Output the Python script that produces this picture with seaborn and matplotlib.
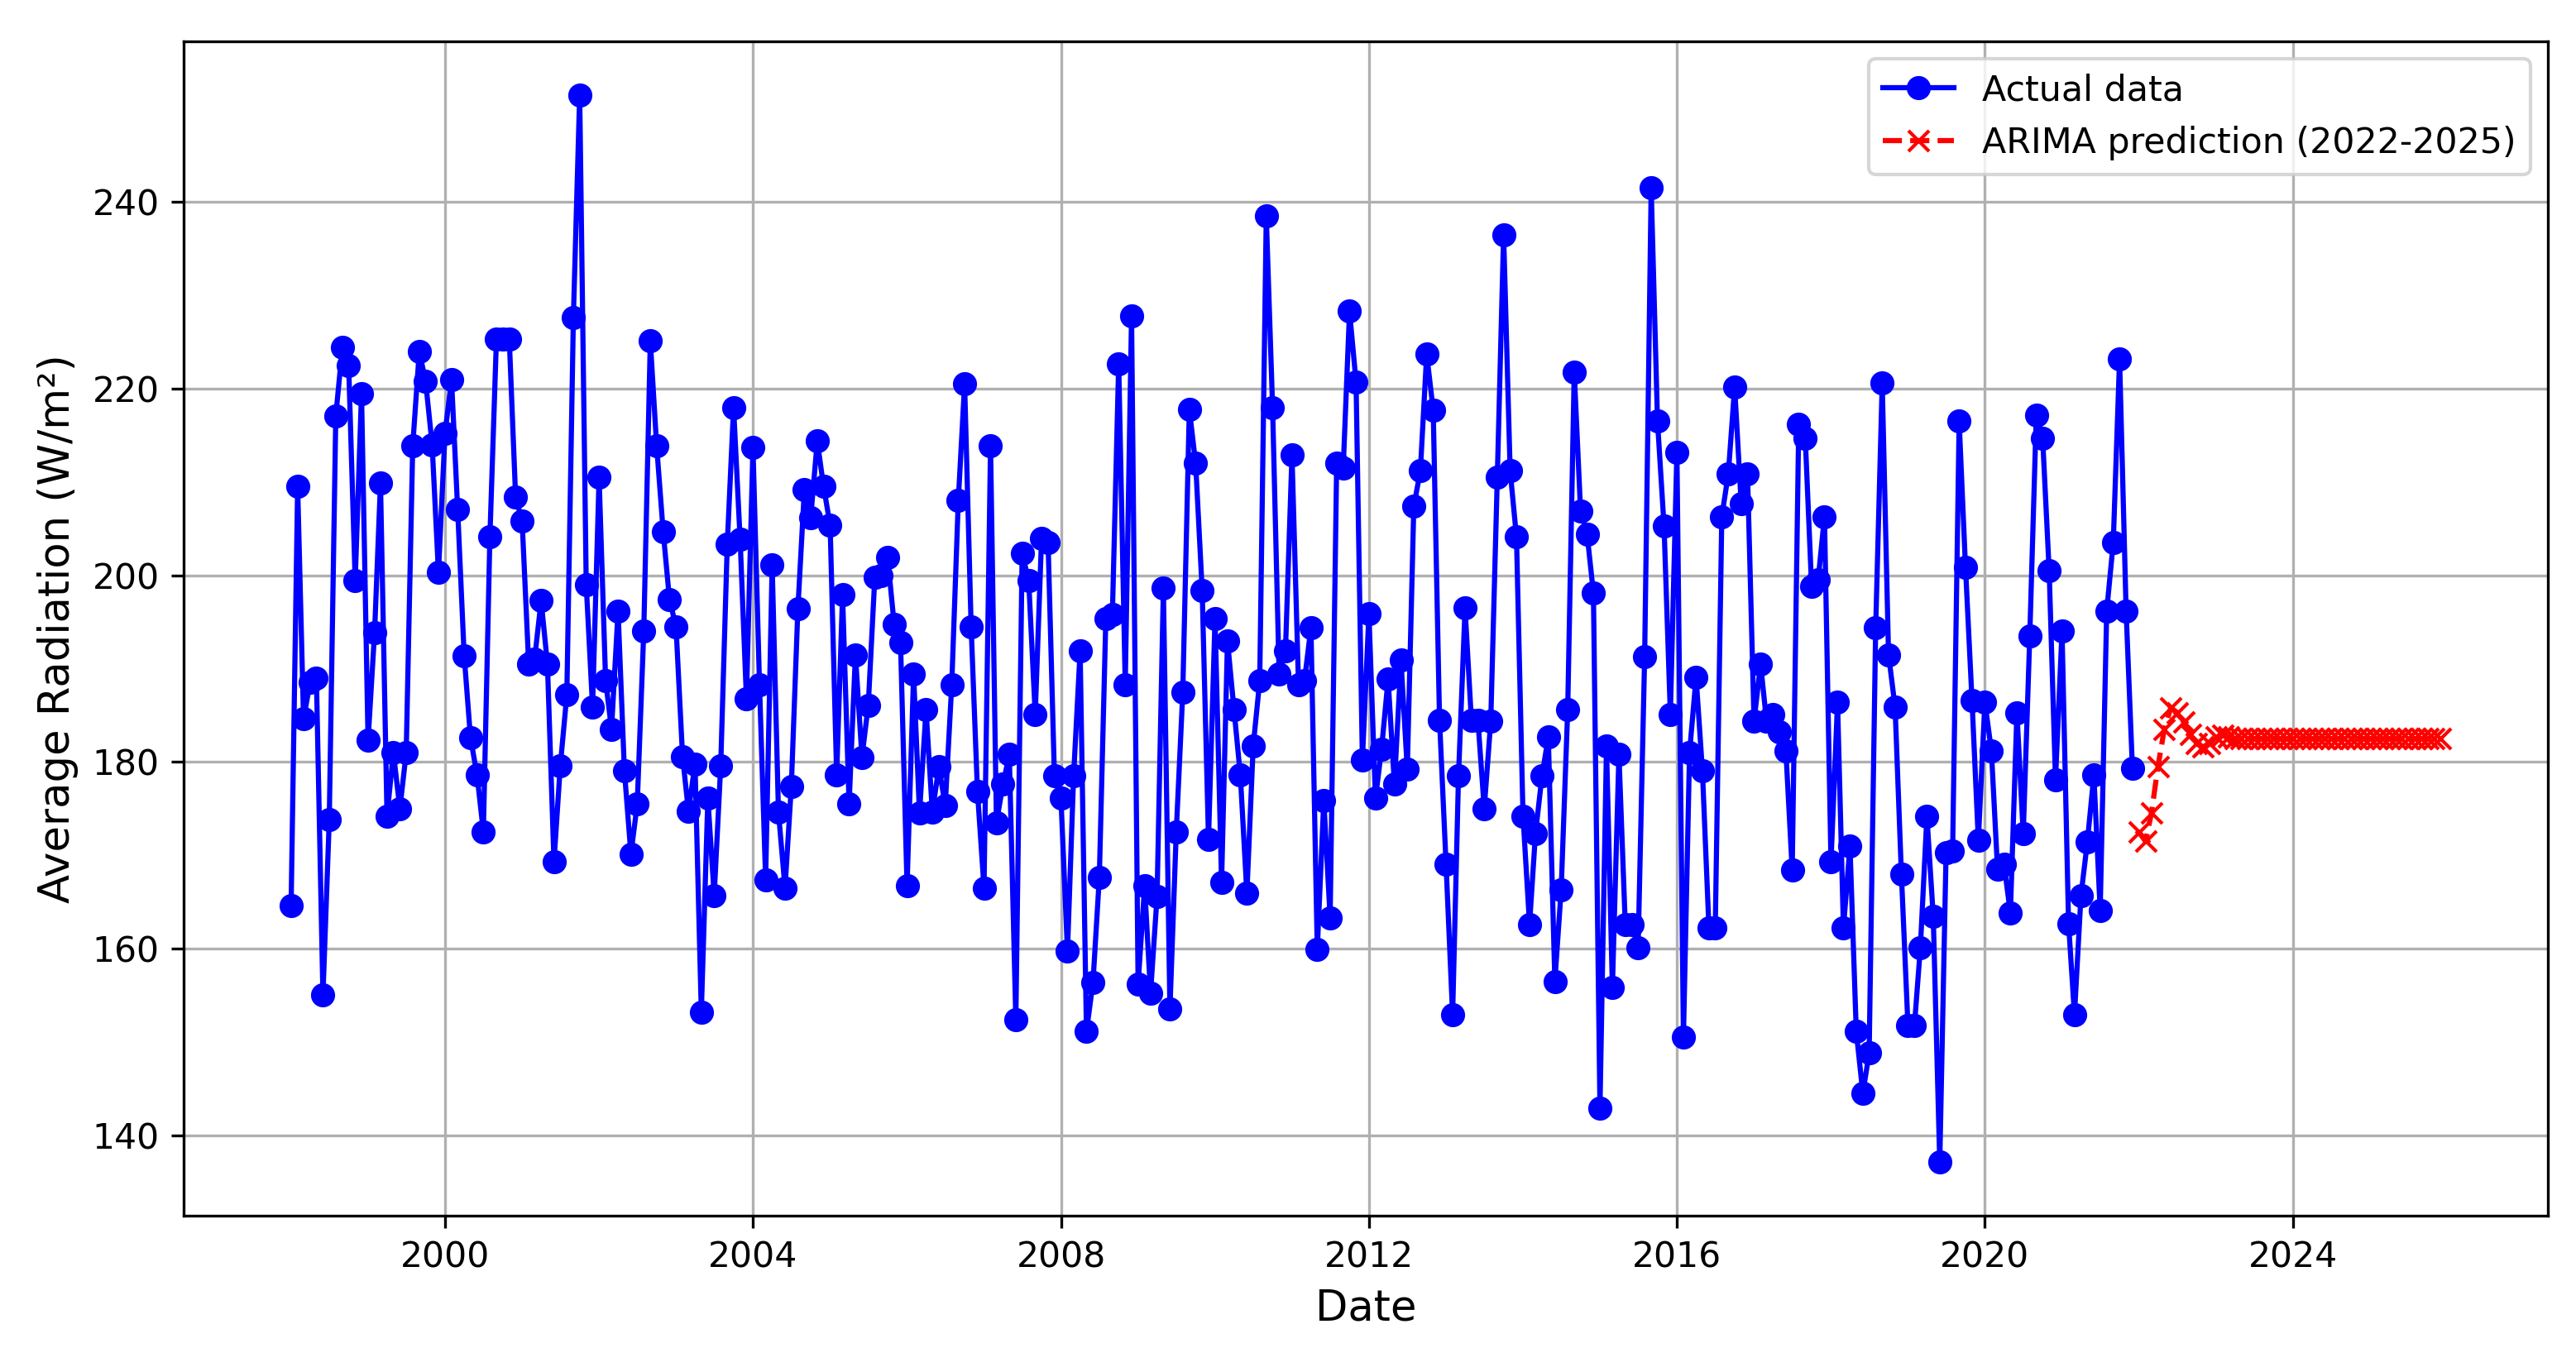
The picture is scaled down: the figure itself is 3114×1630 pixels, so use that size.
import matplotlib
matplotlib.use("Agg")
import matplotlib.pyplot as plt
import matplotlib.dates as mdates
import pandas as pd
import seaborn as sns

# ---- data (monthly averages) ----
actual_start = "1998-01-01"
actual_values = [
    # 1998
    164.6, 209.5, 184.6, 188.5, 189.0, 155.0, 173.8, 217.1, 224.4, 222.5, 199.4, 219.5,
    # 1999
    182.3, 193.9, 209.9, 174.2, 181.0, 175.0, 181.0, 213.9, 224.0, 220.8, 214.0, 200.3,
    # 2000
    215.2, 221.0, 207.1, 191.4, 182.6, 178.6, 172.5, 204.1, 225.3, 225.3, 225.3, 208.4,
    # 2001
    205.8, 190.5, 191.0, 197.3, 190.5, 169.3, 179.6, 187.2, 227.6, 251.5, 199.0, 185.9,
    # 2002
    210.5, 188.7, 183.5, 196.2, 179.1, 170.1, 175.5, 194.0, 225.1, 213.9, 204.7, 197.4,
    # 2003
    194.5, 180.6, 174.7, 179.8, 153.2, 176.1, 165.7, 179.6, 203.3, 218.0, 203.9, 186.8,
    # 2004
    213.7, 188.3, 167.4, 201.1, 174.6, 166.5, 177.4, 196.4, 209.2, 206.2, 214.4, 209.5,
    # 2005
    205.4, 178.6, 197.9, 175.5, 191.5, 180.5, 186.1, 199.8, 200.0, 201.9, 194.7, 192.8,
    # 2006
    166.7, 189.4, 174.5, 185.6, 174.6, 179.5, 175.3, 188.3, 208.0, 220.5, 194.5, 176.8,
    # 2007
    166.5, 213.9, 173.5, 177.6, 180.8, 152.4, 202.4, 199.4, 185.1, 204.0, 203.5, 178.5,
    # 2008
    176.1, 159.7, 178.5, 191.9, 151.1, 156.4, 167.6, 195.4, 195.8, 222.7, 188.3, 227.8,
    # 2009
    156.2, 166.7, 155.2, 165.6, 198.6, 153.5, 172.5, 187.5, 217.8, 212.0, 198.4, 171.7,
    # 2010
    195.4, 167.1, 193.0, 185.6, 178.6, 165.9, 181.7, 188.7, 238.5, 218.0, 189.4, 191.9,
    # 2011
    212.9, 188.3, 188.7, 194.4, 159.9, 175.9, 163.3, 212.0, 211.5, 228.3, 220.7, 180.2,
    # 2012
    195.9, 176.1, 181.4, 188.9, 177.6, 190.9, 179.2, 207.4, 211.2, 223.7, 217.7, 184.5,
    # 2013
    169.0, 152.9, 178.5, 196.5, 184.5, 184.5, 175.0, 184.4, 210.5, 236.5, 211.2, 204.1,
    # 2014
    174.2, 162.6, 172.3, 178.5, 182.7, 156.5, 166.3, 185.6, 221.8, 206.9, 204.4, 198.1,
    # 2015
    142.9, 181.7, 155.8, 180.8, 162.6, 162.6, 160.1, 191.3, 241.5, 216.5, 205.3, 185.1,
    # 2016
    213.2, 150.5, 181.0, 189.1, 179.1, 162.2, 162.2, 206.3, 210.9, 220.2, 207.7, 210.9,
    # 2017
    184.4, 190.5, 184.4, 185.1, 183.2, 181.2, 168.4, 216.2, 214.7, 198.8, 199.5, 206.3,
    # 2018
    169.3, 186.4, 162.2, 171.0, 151.1, 144.5, 148.8, 194.4, 220.6, 191.5, 185.9, 168.0,
    # 2019
    151.8, 151.8, 160.1, 174.2, 163.5, 137.1, 170.3, 170.5, 216.5, 200.9, 186.6, 171.6,
    # 2020
    186.4, 181.2, 168.5, 169.0, 163.8, 185.3, 172.3, 193.5, 217.2, 214.7, 200.5, 178.1,
    # 2021
    194.0, 162.7, 152.9, 165.7, 171.4, 178.6, 164.1, 196.2, 203.5, 223.2, 196.2, 179.3,
]

pred_start = "2022-01-01"
pred_values = [
    # 2022
    172.5, 171.5, 174.5, 179.5, 183.5, 185.8, 185.3, 184.3, 183.0, 182.0, 181.6, 182.0,
    # 2023
    182.7, 182.9, 182.7, 182.5, 182.5, 182.5, 182.5, 182.5, 182.5, 182.5, 182.5, 182.5,
    # 2024
    182.5, 182.5, 182.5, 182.5, 182.5, 182.5, 182.5, 182.5, 182.5, 182.5, 182.5, 182.5,
    # 2025
    182.5, 182.5, 182.5, 182.5, 182.5, 182.5, 182.5, 182.5, 182.5, 182.5, 182.5, 182.5,
]

actual_label = "Actual data"
pred_label = "ARIMA prediction (2022-2025)"
x_label = "Date"
y_label = "Average Radiation (W/m²)"

actual_df = pd.DataFrame({
    "date": pd.date_range(actual_start, periods=len(actual_values), freq="MS"),
    "value": actual_values,
})
pred_df = pd.DataFrame({
    "date": pd.date_range(pred_start, periods=len(pred_values), freq="MS"),
    "value": pred_values,
})

W, H, DPI = 3114, 1630, 300
fig = plt.figure(figsize=(W / DPI, H / DPI), dpi=DPI)
ax = fig.add_axes([222 / W, 1 - 1470 / H, (3080 - 222) / W, (1470 - 50) / H])

sns.lineplot(data=actual_df, x="date", y="value", ax=ax, color="blue",
             marker="o", markersize=6, markeredgecolor="blue",
             markeredgewidth=1.0, linewidth=1.5, label=actual_label)
sns.lineplot(data=pred_df, x="date", y="value", ax=ax, color="red",
             linestyle="--", marker="x", markersize=6, markeredgecolor="red",
             markeredgewidth=1.0, linewidth=1.5, label=pred_label)

ax.xaxis.set_major_locator(mdates.YearLocator(4))
ax.xaxis.set_major_formatter(mdates.DateFormatter("%Y"))
ax.grid(True)
ax.set_xlabel(x_label, fontsize=12.3)
ax.set_ylabel(y_label, fontsize=12.3)
ax.tick_params(labelsize=10.2)
ax.legend(loc="upper right", fontsize=10.25)

fig.savefig("out.png", dpi=DPI)
